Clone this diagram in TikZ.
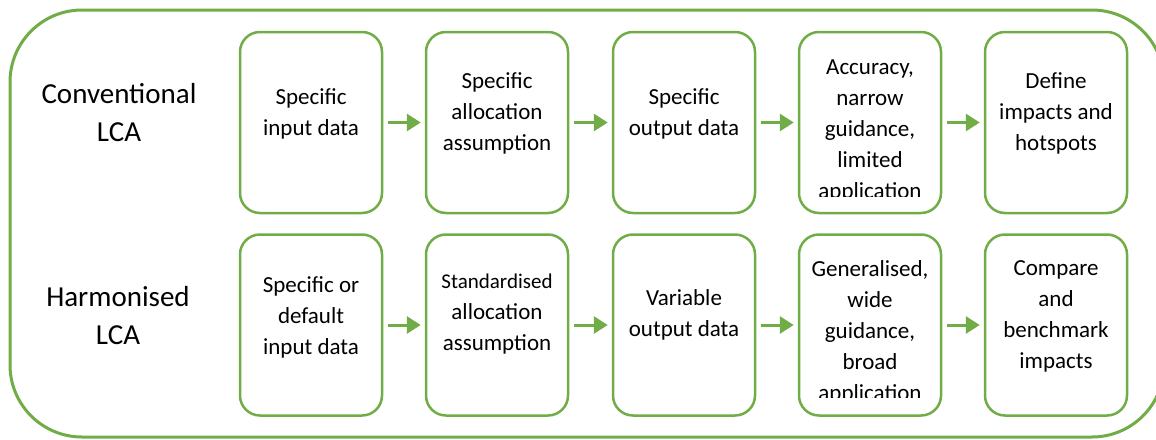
\documentclass[tikz,border=0pt]{standalone}
\usepackage{fontspec}
\setmainfont{Carlito}
\usetikzlibrary{arrows.meta}
\definecolor{lcagreen}{RGB}{112,173,71}
\begin{document}
\begin{tikzpicture}[x=1pt,y=-1pt,
  stage/.style={draw=lcagreen, line width=2.5pt, rounded corners=20pt, minimum width=142pt, minimum height=181pt, inner sep=0pt},
  txt/.style={align=center, font=\fontsize{23}{31}\selectfont, inner sep=0pt},
  rowlabel/.style={align=center, font=\fontsize{29}{38}\selectfont, inner sep=0pt},
  flow/.style={draw=lcagreen, line width=3pt, -{Triangle[length=14pt,width=17pt]}, shorten <=5pt, shorten >=4pt}]
\clip (0,0) rectangle (1156,439);
% outer frame
\draw[draw=lcagreen, line width=3pt, rounded corners=72pt] (10,10) rectangle (1164,437);
% row labels
\node[rowlabel] (conv) at (119,113) {Conventional\\LCA};
\node[rowlabel] (harm) at (118,316) {Harmonised\\LCA};
% row 1 boxes
\node[stage] (a1) at (311,122.5) {};
\node[stage] (a2) at (497,122.5) {};
\node[stage] (a3) at (684,122.5) {};
\node[stage] (a4) at (870,122.5) {};
\node[stage] (a5) at (1056,122.5) {};
% row 2 boxes
\node[stage] (b1) at (311,325) {};
\node[stage] (b2) at (497,325) {};
\node[stage] (b3) at (684,325) {};
\node[stage] (b4) at (870,325) {};
\node[stage] (b5) at (1056,325) {};
% row 1 texts
\node[txt] (ta1) at (311,114) {Specific\\input data};
\node[txt] (ta2) at (497,113) {Specific\\allocation\\assumption};
\node[txt] (ta3) at (684,114) {Specific\\output data};
\begin{scope}
\clip (795,30) rectangle (945,196);
\node[txt] (ta4) at (870,131) {Accuracy,\\narrow\\guidance,\\limited\\application};
\end{scope}
\node[txt] (ta5) at (1056,113) {Define\\impacts and\\hotspots};
% row 2 texts
\node[txt] (tb1) at (311,317) {Specific or\\default\\input data};
\node[txt] (tb2) at (497,314) {{\fontsize{21}{31}\selectfont Standardised}\\allocation\\assumption};
\node[txt] (tb3) at (684,315) {Variable\\output data};
\begin{scope}
\clip (795,232) rectangle (945,397);
\node[txt] (tb4) at (870,332) {Generalised,\\wide\\guidance,\\broad\\application};
\end{scope}
\node[txt] (tb5) at (1056,316) {Compare\\and\\benchmark\\impacts};
% connectors
\draw[flow] (a1) -- (a2);
\draw[flow] (a2) -- (a3);
\draw[flow] (a3) -- (a4);
\draw[flow] (a4) -- (a5);
\draw[flow] (b1) -- (b2);
\draw[flow] (b2) -- (b3);
\draw[flow] (b3) -- (b4);
\draw[flow] (b4) -- (b5);
\end{tikzpicture}
\end{document}
